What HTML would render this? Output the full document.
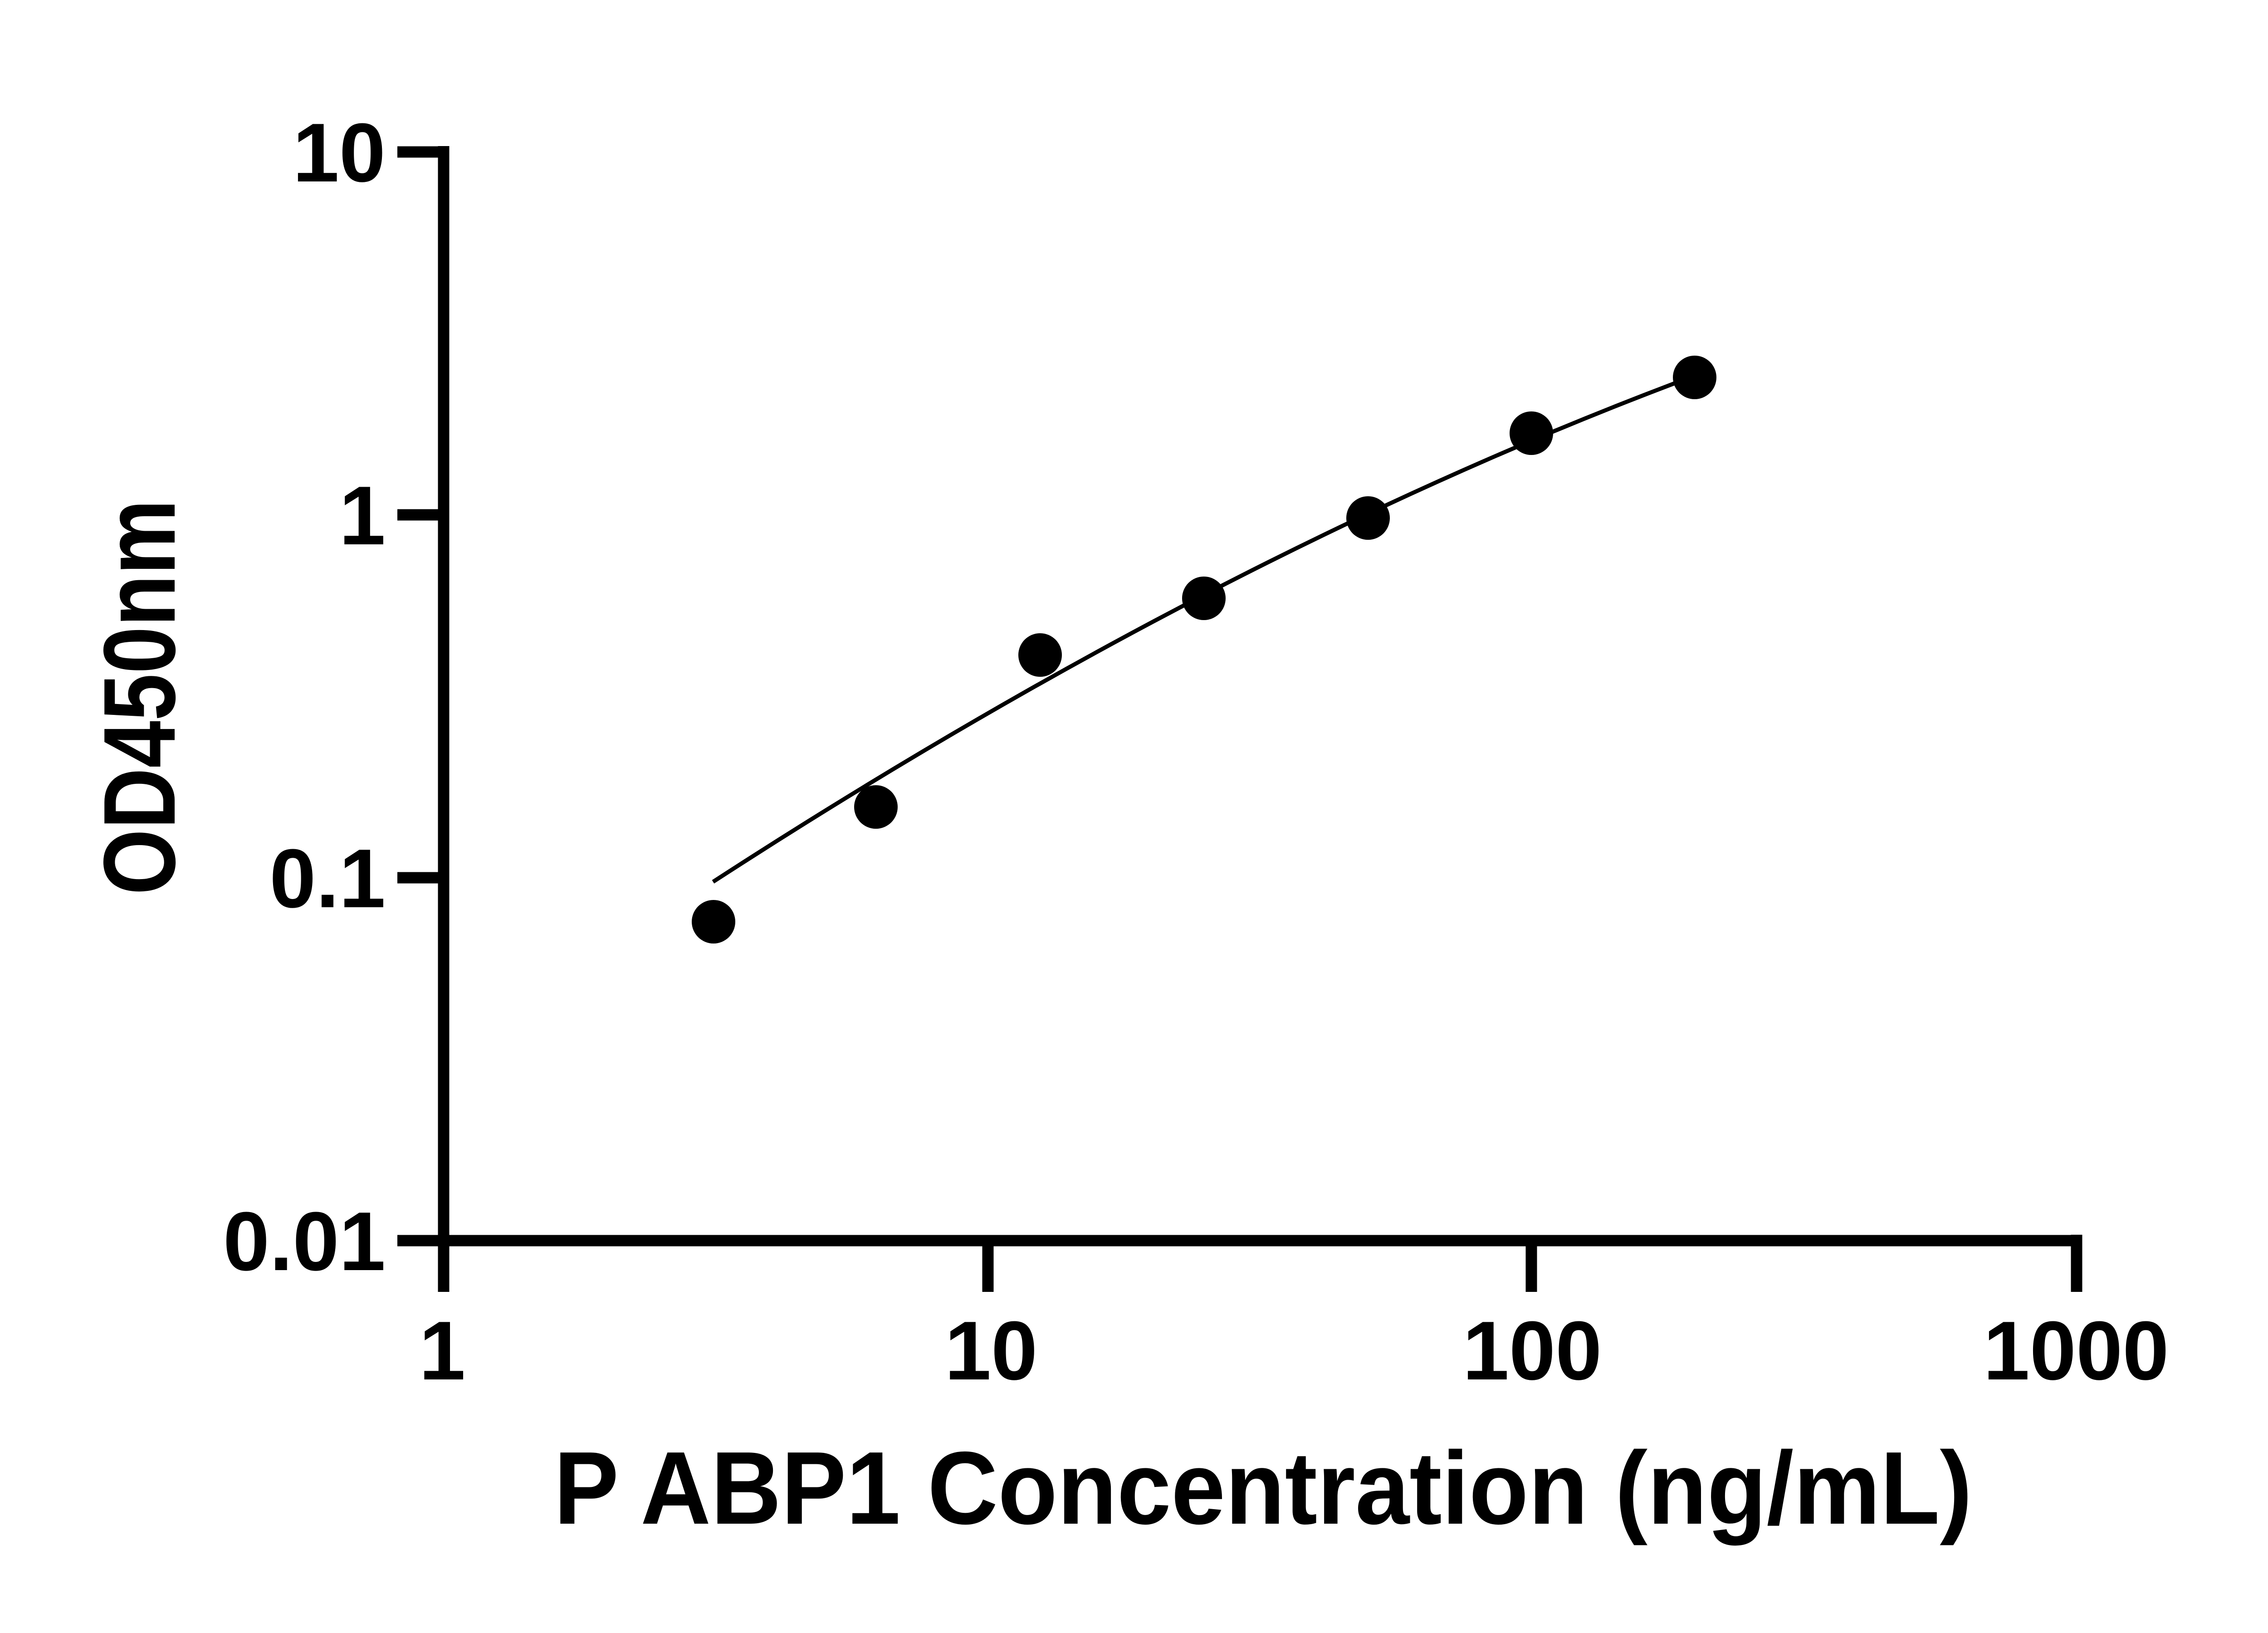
<!DOCTYPE html>
<html><head><meta charset="utf-8"><style>html,body{margin:0;padding:0;background:#fff}svg{display:block}</style></head>
<body>
<svg width="5130" height="3600" viewBox="0 0 5130 3600" xmlns="http://www.w3.org/2000/svg">
<rect width="5130" height="3600" fill="#fff"/>
<g stroke="#000" stroke-width="25" fill="none">
<line x1="978" y1="322" x2="978" y2="2848"/>
<line x1="876" y1="2735" x2="4590" y2="2735"/>
<line x1="876" y1="335" x2="978" y2="335"/>
<line x1="876" y1="1135" x2="978" y2="1135"/>
<line x1="876" y1="1935" x2="978" y2="1935"/>
<line x1="2178" y1="2735" x2="2178" y2="2848"/>
<line x1="3376" y1="2735" x2="3376" y2="2848"/>
<line x1="4578" y1="2722" x2="4578" y2="2848"/>
</g>
<g font-family="Liberation Sans, Arial, sans-serif" font-weight="bold" font-size="184" fill="#000">
<text x="850" y="400" text-anchor="end">10</text>
<text x="850" y="1200" text-anchor="end">1</text>
<text x="850" y="2000" text-anchor="end">0.1</text>
<text x="850" y="2800" text-anchor="end">0.01</text>
<text x="975" y="3041" text-anchor="middle">1</text>
<text x="2185" y="3041" text-anchor="middle">10</text>
<text x="3378" y="3041" text-anchor="middle">100</text>
<text x="4577" y="3041" text-anchor="middle">1000</text>
</g>
<text x="1221" y="3359" font-family="Liberation Sans, Arial, sans-serif" font-weight="bold" font-size="228" textLength="3127" lengthAdjust="spacingAndGlyphs">P ABP1 Concentration (ng/mL)</text>
<text transform="translate(385,1537) rotate(-90)" text-anchor="middle" font-family="Liberation Sans, Arial, sans-serif" font-weight="bold" font-size="225" textLength="872" lengthAdjust="spacingAndGlyphs">OD450nm</text>
<path d="M1572,1944 Q2673,1230 3697,843" stroke="#000" stroke-width="9" fill="none"/>
<g fill="#000">
<circle cx="1573" cy="2032" r="48"/>
<circle cx="1931" cy="1779" r="48"/>
<circle cx="2293" cy="1444" r="48"/>
<circle cx="2654" cy="1319" r="48"/>
<circle cx="3016" cy="1142" r="48"/>
<circle cx="3376" cy="955" r="48"/>
<circle cx="3736" cy="832" r="48"/>
</g>
</svg>
</body></html>
